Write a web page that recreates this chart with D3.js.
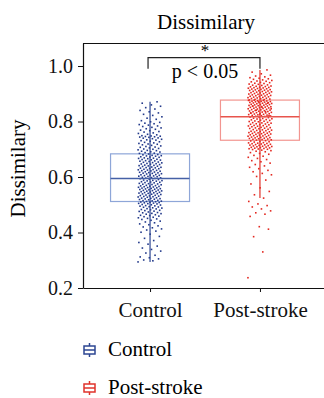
<!DOCTYPE html>
<html>
<head>
<meta charset="utf-8">
<script src="https://cdn.jsdelivr.net/npm/d3@7"></script>
<style>
  body { margin: 0; background: #fff; }
  svg text { font-family: "Liberation Serif", "DejaVu Serif", serif; }
</style>
</head>
<body>
<div id="chart"></div>
<script>
const groups = ["Control", "Post-stroke"];
const yTicks = [0.2, 0.4, 0.6, 0.8, 1.0];

// values, in thousandths
const controlValues = [
  294,298,301,305,309,312,318,326,333,339,344,351,358,364,371,379,386,394,
  401,405,409,413,417,420,424,428,431,435,438,441,444,447,449,
  451,453,455,457,459,461,462,464,466,468,469,471,472,474,476,477,479,480,482,483,
  485,486,488,489,491,492,493,495,496,497,499,500,501,503,504,505,506,507,508,509,510,511,
  512,513,514,515,516,518,519,520,521,522,523,524,525,527,528,529,530,531,532,533,
  534,535,537,538,539,540,541,542,543,544,545,546,547,548,549,550,551,552,553,554,
  555,556,557,558,559,560,561,562,563,564,565,566,567,568,569,570,572,573,574,575,
  576,577,579,580,581,582,583,585,586,587,588,589,591,592,594,
  595,596,597,598,599,601,602,603,604,605,606,607,608,609,611,612,613,614,615,616,
  617,618,619,621,622,623,624,625,626,627,628,630,631,632,633,634,635,636,638,639,
  640,641,642,643,645,646,647,648,649,651,652,653,654,656,657,658,659,661,662,663,
  664,666,667,668,669,671,672,673,675,676,677,678,680,681,683,
  685,686,688,690,691,693,695,696,698,700,701,703,705,707,708,710,712,714,716,718,
  719,721,723,725,727,729,731,733,734,736,738,740,741,743,744,745,746,747,748,749,
  752,754,757,759,762,764,767,769,772,774,777,779,782,784,787,789,792,794,797,799,
  803,808,812,817,822,826,831,835,840,845,850,855,860,866,871
];

const strokeValues = [
  237,330,385,412,421,
  458,466,471,478,485,492,497,503,512,524,536,548,561,575,589,
  602,608,613,619,624,630,635,640,645,650,655,659,663,667,671,675,678,682,685,688,
  691,693,695,697,699,
  700,701,702,703,704,705,706,707,708,709,710,711,712,713,714,715,716,717,718,719,
  720,721,722,723,724,726,727,728,730,731,
  733,734,735,736,737,738,739,740,741,742,743,744,745,746,747,748,749,750,751,752,
  753,754,755,756,757,758,759,760,761,762,763,764,765,767,768,769,770,771,772,774,
  775,776,777,778,779,781,782,783,784,785,786,788,789,790,791,792,794,795,796,797,
  799,800,801,802,804,805,806,807,809,810,811,812,814,815,816,
  818,819,820,821,822,823,824,825,826,827,828,829,830,831,832,833,834,835,836,837,
  838,839,840,841,842,843,844,845,846,847,848,849,850,851,852,852,853,854,855,856,
  857,858,859,860,861,861,862,863,864,865,866,867,868,868,869,870,871,872,873,873,
  874,875,876,876,877,821,826,831,836,841,846,851,856,866,871,
  878,879,880,881,882,883,884,885,886,887,888,889,890,891,892,893,894,895,896,897,
  898,899,900,901,902,903,904,905,906,907,908,909,910,911,912,913,914,915,916,917,
  918,919,920,921,922,923,924,925,926,927,928,930,931,932,934,935,937,938,940,941,
  943,945,946,948,950,952,954,956,958,961,964,967,972,978,986
];

const series = [
  { name: "Control", values: controlValues.map(v => v / 1000),
    dot: "#22398a", box: "#8ea6d8", median: "#4560a6", whisker: "#2d4692" },
  { name: "Post-stroke", values: strokeValues.map(v => v / 1000),
    dot: "#e3271f", box: "#f29590", median: "#e8544c", whisker: "#e0332b" }
];

const width = 324, height = 398;
const margin = { left: 83, top: 43, bottom: 288 };
const serif = "'Liberation Serif', 'DejaVu Serif', serif";

const svg = d3.select("#chart").append("svg")
  .attr("width", width).attr("height", height)
  .attr("font-family", serif);

const x = d3.scalePoint().domain(groups).range([margin.left, 327]).padding(0.61);
const y = d3.scaleLinear().domain([0.2, 1.083]).range([margin.bottom, margin.top]);

// title
svg.append("text")
  .attr("x", 206).attr("y", 29)
  .attr("text-anchor", "middle")
  .attr("font-size", 21)
  .text("Dissimilary");

// y label
svg.append("text")
  .attr("transform", `translate(25,${(margin.top + margin.bottom) / 2 + 3}) rotate(-90)`)
  .attr("text-anchor", "middle")
  .attr("font-size", 21)
  .text("Dissimilary");

// top frame line
svg.append("line")
  .attr("x1", margin.left).attr("x2", width)
  .attr("y1", margin.top + 0.5).attr("y2", margin.top + 0.5)
  .attr("stroke", "#111").attr("stroke-width", 1.2);

const boxHalf = 39.5;
const jitter = 12;

series.forEach(s => {
  const sorted = s.values.slice().sort(d3.ascending);
  const q1 = d3.quantile(sorted, 0.25);
  const med = d3.quantile(sorted, 0.5);
  const q3 = d3.quantile(sorted, 0.75);
  const iqr = q3 - q1;
  const lo = d3.min(sorted.filter(v => v >= q1 - 1.5 * iqr));
  const hi = d3.max(sorted.filter(v => v <= q3 + 1.5 * iqr));
  const cx = x(s.name);
  const g = svg.append("g");

  g.append("rect")
    .attr("x", cx - boxHalf).attr("width", boxHalf * 2)
    .attr("y", y(q3)).attr("height", y(q1) - y(q3))
    .attr("fill", "none").attr("stroke", s.box).attr("stroke-width", 1.2);

  g.selectAll("rect.dot")
    .data(s.values)
    .join("rect")
    .attr("class", "dot")
    .attr("x", (d, i) => cx + (((i * 0.618034) % 1) - 0.5) * 2 * jitter - 0.8)
    .attr("y", d => y(d) - 0.8)
    .attr("width", 1.6).attr("height", 1.6)
    .attr("fill", s.dot);

  g.append("line")
    .attr("x1", cx).attr("x2", cx)
    .attr("y1", y(hi)).attr("y2", y(lo))
    .attr("stroke", s.whisker).attr("stroke-width", 1.2);

  g.append("line")
    .attr("x1", cx - boxHalf).attr("x2", cx + boxHalf)
    .attr("y1", y(med)).attr("y2", y(med))
    .attr("stroke", s.median).attr("stroke-width", 1.6);
});

// axes
const yAxis = svg.append("g")
  .attr("transform", `translate(${margin.left},0)`)
  .call(d3.axisLeft(y).tickValues(yTicks).tickFormat(d3.format(".1f")).tickSize(5).tickSizeOuter(0))
  .attr("font-family", serif);
yAxis.select(".domain").attr("stroke", "#111").attr("stroke-width", 1.2);
yAxis.selectAll(".tick line").attr("stroke", "#111");
yAxis.selectAll("text")
  .attr("font-size", 20).attr("fill", "#111").attr("x", -10);

const xAxis = svg.append("g")
  .attr("transform", `translate(0,${margin.bottom})`)
  .call(d3.axisBottom(x).tickSize(4).tickSizeOuter(0))
  .attr("font-family", serif);
xAxis.select(".domain").attr("stroke", "#111").attr("stroke-width", 1.2);
xAxis.selectAll(".tick line").attr("stroke", "#111");
xAxis.selectAll("text")
  .attr("font-size", 21).attr("fill", "#111").attr("y", 14);

// significance bracket
const by = y(1.03), legY = y(0.99);
const mid = (x("Control") + x("Post-stroke")) / 2;
svg.append("path")
  .attr("d", `M${x("Control") - 2},${legY}V${by}H${x("Post-stroke")}V${legY}`)
  .attr("fill", "none").attr("stroke", "#222").attr("stroke-width", 1.2);
svg.append("text")
  .attr("x", mid).attr("y", 56)
  .attr("text-anchor", "middle").attr("font-size", 17)
  .text("*");
svg.append("text")
  .attr("x", mid).attr("y", 78)
  .attr("text-anchor", "middle").attr("font-size", 20)
  .text("p < 0.05");

// legend
const legend = svg.append("g").attr("transform", "translate(89.5,0)");
series.forEach((s, i) => {
  const ly = 350 + i * 38;
  const lg = legend.append("g").attr("transform", `translate(0,${ly})`);
  lg.append("line").attr("x1", 0).attr("x2", 0).attr("y1", -7).attr("y2", 7)
    .attr("stroke", s.whisker).attr("stroke-width", 1.5);
  lg.append("rect").attr("x", -5.5).attr("y", -4).attr("width", 11).attr("height", 8)
    .attr("fill", "#fff").attr("stroke", s.whisker).attr("stroke-width", 1.5);
  lg.append("line").attr("x1", -5.5).attr("x2", 5.5).attr("y1", 0).attr("y2", 0)
    .attr("stroke", s.whisker).attr("stroke-width", 1.5);
  lg.append("text").attr("x", 18.5).attr("y", 6)
    .attr("font-size", 21).text(s.name);
});
</script>
</body>
</html>
